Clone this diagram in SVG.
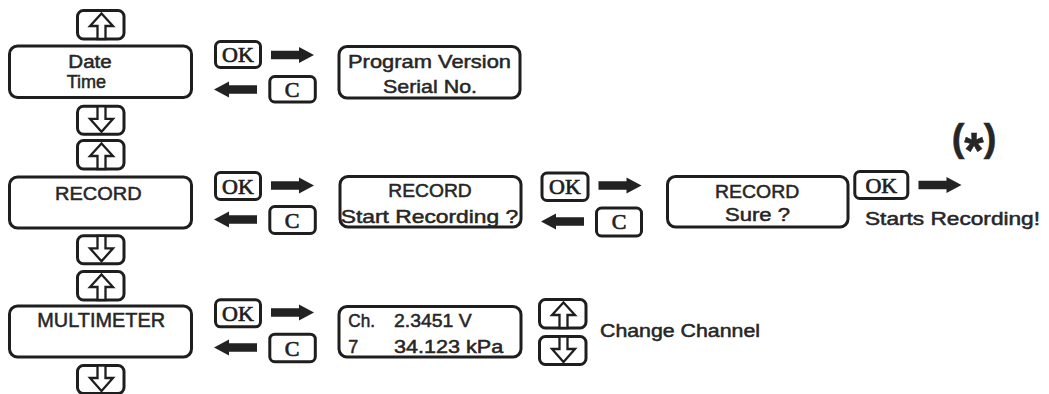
<svg xmlns="http://www.w3.org/2000/svg" xmlns:xlink="http://www.w3.org/1999/xlink" width="1049" height="394" viewBox="0 0 1049 394">
<style>
.box{fill:#fff;stroke:#1e1e1e;stroke-width:3}
.gl{fill:#fff;stroke:#1e1e1e;stroke-width:2.3;stroke-linejoin:miter}
.t{font-family:"Liberation Sans",Arial,sans-serif;font-size:18px;fill:#262626;stroke:#262626;stroke-width:0.5}
.k{font-family:"Liberation Serif","Times New Roman",serif;font-size:22px;fill:#1e1e1e;stroke:#1e1e1e;stroke-width:0.7;text-anchor:middle}
.arr{fill:#222}
</style>
<defs>
<g id="btnUp"><rect class="box" x="0" y="0" width="46.5" height="28.5" rx="6"/><polygon class="gl" points="24,3 35.5,15.5 28,15.5 28,28.5 20,28.5 20,15.5 12.5,15.5"/></g>
<g id="btnDown"><rect class="box" x="0" y="0" width="46.5" height="28" rx="6"/><polygon class="gl" points="20,0 28,0 28,12.5 35.5,12.5 24,25.5 12.5,12.5 20,12.5"/></g>
<path id="arR" d="M0,-4.2H28V-8L43,0L28,8V4.2H0Z"/>
<path id="arL" d="M0,0L15,-8V-4.2H43V4.2H15V8Z"/>
</defs>

<g id="date-time">
<use xlink:href="#btnUp" x="77.5" y="10.5"/>
<rect class="box" x="9.5" y="46" width="182" height="51.5" rx="8"/>
<text class="t" x="68.3" y="68.3" textLength="43.4" lengthAdjust="spacingAndGlyphs">Date</text>
<text class="t" x="66.7" y="88.3" style="font-size:18.5px" textLength="39.5" lengthAdjust="spacingAndGlyphs">Time</text>
<use xlink:href="#btnDown" x="77.5" y="106.3"/>
</g>

<g id="ok1"><rect class="box" x="215.5" y="41.5" width="45" height="26" rx="5"/><text class="k" x="238" y="62">OK</text></g>
<g id="c1"><rect class="box" x="269.8" y="76.5" width="45.5" height="25.5" rx="5"/><text class="k" x="292" y="96.7">C</text></g>

<g id="program-version">
<rect class="box" x="339" y="46.5" width="181" height="51.5" rx="8"/>
<text class="t" x="348" y="68.3" style="font-size:19px" textLength="163" lengthAdjust="spacingAndGlyphs">Program Version</text>
<text class="t" x="383" y="93.3" style="font-size:19px" textLength="94" lengthAdjust="spacingAndGlyphs">Serial No.</text>
</g>

<g id="record">
<use xlink:href="#btnUp" x="77.5" y="140.5"/>
<rect class="box" x="9.5" y="177" width="182" height="51" rx="8"/>
<text class="t" x="55" y="200" style="font-size:19px" textLength="86.7" lengthAdjust="spacingAndGlyphs">RECORD</text>
<use xlink:href="#btnDown" x="77.5" y="235.8"/>
</g>

<g id="ok2"><rect class="box" x="215.5" y="172.5" width="45" height="27" rx="5"/><text class="k" x="238" y="193.5">OK</text></g>
<g id="c2"><rect class="box" x="269.8" y="206.5" width="45.5" height="27" rx="5"/><text class="k" x="292" y="227.5">C</text></g>

<g id="record-start">
<rect class="box" x="340" y="176.5" width="181" height="50.5" rx="8"/>
<text class="t" x="388.3" y="197.3" textLength="83.4" lengthAdjust="spacingAndGlyphs">RECORD</text>
<text class="t" x="340.7" y="222.5" style="font-size:19px" textLength="177.6" lengthAdjust="spacingAndGlyphs">Start Recording ?</text>
</g>

<g id="ok3"><rect class="box" x="542" y="173" width="46" height="27.5" rx="5"/><text class="k" x="565" y="194">OK</text></g>
<g id="c3"><rect class="box" x="596.5" y="208" width="45" height="28" rx="5"/><text class="k" x="619" y="229">C</text></g>

<g id="record-sure">
<rect class="box" x="667.5" y="176.5" width="180.5" height="50.5" rx="8"/>
<text class="t" x="715" y="198.3" textLength="84.3" lengthAdjust="spacingAndGlyphs">RECORD</text>
<text class="t" x="725" y="220.5" textLength="65" lengthAdjust="spacingAndGlyphs">Sure ?</text>
</g>

<g id="ok4"><rect class="box" x="854.8" y="171.5" width="53" height="27" rx="5"/><text class="k" x="881.3" y="192.5">OK</text></g>

<g id="starts-recording">
<text class="t" x="865" y="225" textLength="175" lengthAdjust="spacingAndGlyphs">Starts Recording!</text>
<text class="t" x="951.7" y="150.5" style="font-size:38px;font-weight:bold">(<tspan dy="17" style="font-size:50px">*</tspan><tspan dy="-17">)</tspan></text>
</g>

<g id="multimeter">
<use xlink:href="#btnUp" x="77.5" y="271.5"/>
<rect class="box" x="9.5" y="306" width="182" height="51" rx="8"/>
<text class="t" x="37.3" y="326.7" style="font-size:19.5px" textLength="127.7" lengthAdjust="spacingAndGlyphs">MULTIMETER</text>
<use xlink:href="#btnDown" x="77.5" y="365.5"/>
</g>

<g id="ok5"><rect class="box" x="215.5" y="299.8" width="45" height="27" rx="5"/><text class="k" x="238" y="320.8">OK</text></g>
<g id="c5"><rect class="box" x="269.8" y="334.2" width="45.5" height="27.5" rx="5"/><text class="k" x="292" y="355.5">C</text></g>

<g id="channel-display">
<rect class="box" x="339" y="306.5" width="182" height="50.5" rx="8"/>
<text class="t" x="348.3" y="326.7" textLength="26.7" lengthAdjust="spacingAndGlyphs">Ch.</text>
<text class="t" x="394" y="326.7" textLength="77.7" lengthAdjust="spacingAndGlyphs">2.3451 V</text>
<text class="t" x="348.3" y="353.3">7</text>
<text class="t" x="394" y="353.3" textLength="109.3" lengthAdjust="spacingAndGlyphs">34.123 kPa</text>
</g>

<g id="change-channel">
<use xlink:href="#btnUp" x="539.5" y="299.5"/>
<use xlink:href="#btnDown" x="539.5" y="336.5"/>
<text class="t" x="600" y="337" textLength="160" lengthAdjust="spacingAndGlyphs">Change Channel</text>
</g>

<g id="connectors" class="arr">
<use xlink:href="#arR" x="271" y="55"/>
<use xlink:href="#arL" x="214" y="89.5"/>
<use xlink:href="#arR" x="271" y="185.5"/>
<use xlink:href="#arL" x="214" y="219.5"/>
<use xlink:href="#arR" x="598.5" y="185.5"/>
<use xlink:href="#arL" x="541" y="221.5"/>
<use xlink:href="#arR" x="918.5" y="185"/>
<use xlink:href="#arR" x="271" y="312.5"/>
<use xlink:href="#arL" x="214" y="347.5"/>
</g>
</svg>
